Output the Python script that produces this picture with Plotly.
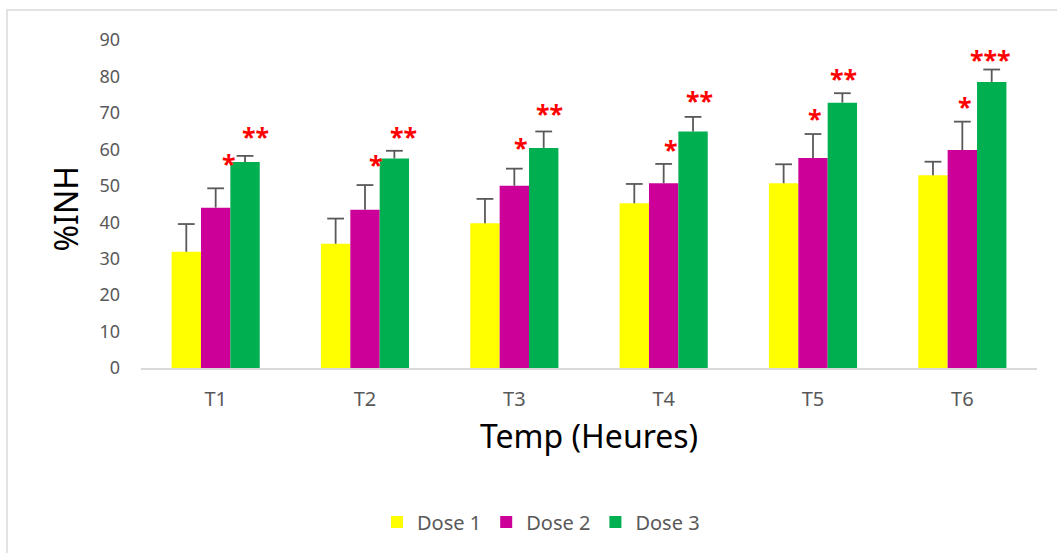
import plotly.graph_objects as go

# Time points and inhibition (%) per dose, with standard deviations
temps = ["T1", "T2", "T3", "T4", "T5", "T6"]
dose1 = [31.9, 34.1, 39.7, 45.2, 50.7, 52.9]
dose2 = [44.0, 43.4, 50.0, 50.7, 57.6, 59.8]
dose3 = [56.5, 57.5, 60.4, 64.9, 72.8, 78.5]
err1 = [7.6, 6.9, 6.7, 5.3, 5.2, 3.7]
err2 = [5.3, 6.8, 4.7, 5.3, 6.6, 7.8]
err3 = [1.7, 2.1, 4.5, 4.0, 2.6, 3.4]

# Significance marks drawn above Dose 2 and Dose 3 bars
sig2 = ["*", "*", "*", "*", "*", "*"]
sig3 = ["**", "**", "**", "**", "**", "***"]

y_ticks = [0, 10, 20, 30, 40, 50, 60, 70, 80, 90]

W, H = 1057, 553
ML, MR, MT, MB = 141, 20, 40, 185
plot_w = W - ML - MR
plot_h = H - MT - MB

colors = ["#FFFF00", "#CC0099", "#00B050"]
names = ["Dose 1", "Dose 2", "Dose 3"]
err_color = "#595959"

bargap = 0.41
n_series = 3
bar_w_data = (1 - bargap) / n_series          # width of one bar in category units
cat_w = plot_w / len(temps)
bar_w_px = cat_w * (1 - bargap) / n_series

idx = list(range(len(temps)))

fig = go.Figure()
series = list(zip(names, [dose1, dose2, dose3], [err1, err2, err3], colors))
for name, vals, errs, col in series:
    fig.add_trace(go.Bar(
        x=idx, y=vals, name=name,
        marker=dict(color=col, line=dict(width=0)),
    ))

# upper-only error bars: vertical stem down to the bar top, cap on top
for k, (name, vals, errs, col) in enumerate(series):
    offset = (k - (n_series - 1) / 2) * bar_w_data
    fig.add_trace(go.Scatter(
        x=[i + offset for i in idx],
        y=[v + e for v, e in zip(vals, errs)],
        mode="markers",
        marker=dict(symbol="line-ew-open", size=12, color=err_color,
                    line=dict(color=err_color, width=1.8)),
        error_y=dict(type="data", symmetric=False, array=[0] * len(errs),
                     arrayminus=errs, color=err_color, thickness=1.8, width=0),
        showlegend=False, hoverinfo="skip",
    ))

# pixel nudges for the significance marks
dx2 = [13, 11, 7, 7, 2, 3]
dy2 = [6, 2, 3, -4, -3, -3]
dx3 = [10, 9, 6, 6, 1, -1]
dy3 = [1, -4, -1, -2, -4, -8]

star_font = dict(family="Noto Sans", size=25, color="#FF0000", weight="bold")
annotations = []
for i in idx:
    annotations.append(dict(
        x=i, y=dose2[i] + err2[i], xref="x", yref="y", text=sig2[i],
        showarrow=False, yanchor="bottom", xanchor="center",
        xshift=dx2[i], yshift=dy2[i], font=star_font,
    ))
    annotations.append(dict(
        x=i, y=dose3[i] + err3[i], xref="x", yref="y", text=sig3[i],
        showarrow=False, yanchor="bottom", xanchor="center",
        xshift=bar_w_px + dx3[i], yshift=dy3[i], font=star_font,
    ))

# axis titles
annotations.append(dict(
    x=(65 - ML) / plot_w, y=(H - MB - 209.5) / plot_h, xref="paper", yref="paper",
    text="%INH", textangle=-90, showarrow=False,
    xanchor="center", yanchor="middle",
    font=dict(family="Noto Sans", size=32, color="#000000"),
))
annotations.append(dict(
    x=(588.5 - ML) / plot_w, y=(H - MB - 435) / plot_h, xref="paper", yref="paper",
    text="Temp (Heures)", showarrow=False,
    xanchor="center", yanchor="middle",
    font=dict(family="Noto Sans", size=32, color="#000000"),
))

fig.update_layout(
    width=W, height=H,
    margin=dict(l=ML, r=MR, t=MT, b=MB),
    paper_bgcolor="#FFFFFF", plot_bgcolor="#FFFFFF",
    barmode="group", bargap=bargap, bargroupgap=0,
    font=dict(family="Noto Sans", color="#595959"),
    showlegend=True,
    legend=dict(
        orientation="h", x=(541 - ML) / plot_w, y=(H - MB - 522) / plot_h,
        xanchor="center", yanchor="middle",
        font=dict(family="Noto Sans", size=20, color="#595959"),
        bgcolor="rgba(0,0,0,0)",
    ),
    annotations=annotations,
    shapes=[dict(
        type="rect", xref="paper", yref="paper",
        x0=(7 - ML) / plot_w, x1=1.2, y0=-1.0, y1=(H - MB - 10) / plot_h,
        line=dict(color="#D9D9D9", width=1.5), fillcolor="rgba(0,0,0,0)", layer="below",
    )],
    xaxis=dict(
        range=[-0.5, len(temps) - 0.5], tickvals=idx, ticktext=temps,
        showgrid=False, zeroline=False, showline=True, linecolor="#D9D9D9", linewidth=1.5,
        ticks="", tickfont=dict(family="Noto Sans", size=20, color="#595959"),
        ticklabelstandoff=12,
    ),
    yaxis=dict(
        range=[0, 90], tickvals=y_ticks, showgrid=False, zeroline=False, showline=False,
        ticks="", tickfont=dict(family="Noto Sans", size=18, color="#595959"),
        ticklabelstandoff=20,
    ),
)

fig.write_html("out.html")
